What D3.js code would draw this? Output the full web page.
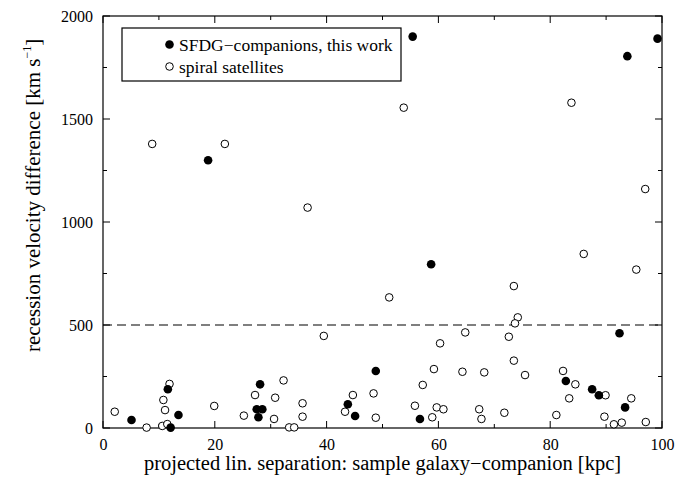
<!doctype html>
<html lang="en">
<head>
<meta charset="UTF-8">
<title>Recession velocity difference</title>
<script src="https://d3js.org/d3.v7.min.js"></script>
<style>
  body { margin: 0; background: #fff; }
  svg text { font-family: "Liberation Serif", "Times New Roman", serif; fill: #000; }
</style>
</head>
<body>
<div id="chart-area"></div>
<script>

// SFDG companions (filled) : [separation kpc, velocity difference km/s]
const sfdgX = [55.4, 93.8, 99.2, 18.8, 58.7, 92.4, 48.8, 43.8, 45.1, 56.7, 82.8,
               87.5, 88.7, 93.4, 5.1, 11.6, 12.1, 13.5, 28.1, 27.5, 28.5, 27.8];
const sfdgY = [1900, 1805, 1890, 1300, 795, 460, 277, 115, 58, 44, 228,
               188, 159, 100, 39, 188, 2, 63, 212, 91, 91, 52];

// spiral satellites (open)
const spiralX = [8.8, 21.8, 53.8, 83.8, 36.6, 51.2, 97.0, 86.0, 95.4, 73.5, 74.2, 73.7,
                 72.6, 73.5, 75.5, 82.3, 84.5, 83.4, 89.9, 94.5, 71.8, 81.1, 89.7, 91.4,
                 92.8, 97.1, 39.5, 64.8, 60.3, 59.2, 64.3, 68.2, 57.2, 44.7, 48.4, 43.3,
                 55.8, 59.7, 60.9, 48.8, 58.9, 67.3, 67.7, 35.7, 35.7, 2.1, 7.8, 10.6,
                 11.5, 10.8, 11.1, 11.9, 19.9, 25.2, 27.2, 30.8, 32.3, 30.6, 33.3, 34.2];
const spiralY = [1379, 1379, 1555, 1579, 1070, 634, 1160, 845, 769, 689, 537, 508,
                 443, 327, 257, 277, 212, 144, 159, 144, 74, 63, 55, 18,
                 26, 29, 447, 464, 411, 286, 273, 270, 209, 160, 168, 79,
                 108, 100, 91, 50, 52, 91, 44, 120, 55, 79, 2, 10,
                 19, 136, 87, 214, 107, 60, 160, 147, 231, 44, 3, 3];

const xTicks = [0, 20, 40, 60, 80, 100];
const yTicks = [0, 500, 1000, 1500, 2000];
const threshold = 500;
const legendLabels = ['SFDG\u2212companions, this work', 'spiral satellites'];

const W = 695, H = 477;
const margin = { top: 16, right: 33, bottom: 49, left: 103 };
const chartW = W - margin.left - margin.right;
const chartH = H - margin.top - margin.bottom;
const serif = '"Liberation Serif", "Times New Roman", serif';

const svg = d3.select('#chart-area')
    .append('svg')
    .attr('width', W)
    .attr('height', H);

const g = svg.append('g')
    .attr('transform', `translate(${margin.left},${margin.top})`);

const x = d3.scaleLinear().domain([0, 100]).range([0, chartW]);
const y = d3.scaleLinear().domain([0, 2000]).range([chartH, 0]);

// labels from d3 axes, ticks drawn inside the frame below
const xAxis = d3.axisBottom(x).tickValues(xTicks).tickSize(0).tickPadding(11)
    .tickFormat(d3.format('d'));
const yAxis = d3.axisLeft(y).tickValues(yTicks).tickSize(0).tickPadding(10)
    .tickFormat(d3.format('d'));

g.append('g').attr('transform', `translate(0,${chartH})`).call(xAxis)
    .call(s => s.select('.domain').remove())
    .selectAll('text')
    .attr('fill', '#000')
    .style('font-family', serif)
    .style('font-size', '16px');
g.append('g').call(yAxis)
    .call(s => s.select('.domain').remove())
    .selectAll('text')
    .attr('fill', '#000')
    .style('font-family', serif)
    .style('font-size', '16px');

const xMinor = d3.range(0, 101, 10);
const yMinor = d3.range(0, 2001, 250);
const tickG = g.append('g').attr('stroke', '#000').attr('stroke-width', 1);
xMinor.forEach(v => {
    const len = v % 20 === 0 ? 7 : 4;
    tickG.append('line').attr('x1', x(v)).attr('x2', x(v)).attr('y1', chartH).attr('y2', chartH - len);
    tickG.append('line').attr('x1', x(v)).attr('x2', x(v)).attr('y1', 0).attr('y2', len);
});
yMinor.forEach(v => {
    const len = v % 500 === 0 ? 7 : 4;
    tickG.append('line').attr('y1', y(v)).attr('y2', y(v)).attr('x1', 0).attr('x2', len);
    tickG.append('line').attr('y1', y(v)).attr('y2', y(v)).attr('x1', chartW).attr('x2', chartW - len);
});

g.append('rect')
    .attr('width', chartW).attr('height', chartH)
    .attr('fill', 'none').attr('stroke', '#000').attr('stroke-width', 1.2);

// dashed threshold line
g.append('line')
    .attr('x1', 0).attr('x2', chartW)
    .attr('y1', y(threshold)).attr('y2', y(threshold))
    .attr('stroke', '#000').attr('stroke-width', 1.2)
    .attr('stroke-dasharray', '9,5');

const spiral = spiralX.map((v, i) => [v, spiralY[i]]);
const sfdg = sfdgX.map((v, i) => [v, sfdgY[i]]);

g.selectAll('circle.spiral')
    .data(spiral)
    .enter().append('circle')
    .attr('class', 'spiral')
    .attr('cx', d => x(d[0]))
    .attr('cy', d => y(d[1]))
    .attr('r', 3.8)
    .attr('fill', '#fff')
    .attr('stroke', '#000')
    .attr('stroke-width', 1);

g.selectAll('circle.sfdg')
    .data(sfdg)
    .enter().append('circle')
    .attr('class', 'sfdg')
    .attr('cx', d => x(d[0]))
    .attr('cy', d => y(d[1]))
    .attr('r', 4.3)
    .attr('fill', '#000');

// legend
const lg = svg.append('g');
lg.append('rect')
    .attr('x', 122).attr('y', 28).attr('width', 279).attr('height', 53)
    .attr('fill', '#fff').attr('stroke', '#000').attr('stroke-width', 1.2);
lg.append('circle').attr('cx', 169.5).attr('cy', 44.5).attr('r', 4.3).attr('fill', '#000');
lg.append('circle').attr('cx', 169.5).attr('cy', 66.5).attr('r', 3.8)
    .attr('fill', '#fff').attr('stroke', '#000');
lg.selectAll('text.leg')
    .data(legendLabels)
    .enter().append('text')
    .attr('class', 'leg')
    .attr('x', 179)
    .attr('y', (d, i) => 50.5 + i * 22)
    .style('font-size', '17.5px')
    .text(d => d);

// axis titles
svg.append('text')
    .attr('x', margin.left + chartW / 2)
    .attr('y', 470)
    .attr('text-anchor', 'middle')
    .style('font-size', '20.5px')
    .text('projected lin. separation: sample galaxy\u2212companion [kpc]');

const yt = svg.append('text')
    .attr('transform', 'translate(40,352) rotate(-90)')
    .attr('text-anchor', 'start')
    .style('font-size', '21px');
yt.append('tspan').text('recession velocity difference [km s');
yt.append('tspan').attr('dy', -9).style('font-size', '12px').text('\u22121');
yt.append('tspan').attr('dy', 9).text(']');

</script>
</body>
</html>
